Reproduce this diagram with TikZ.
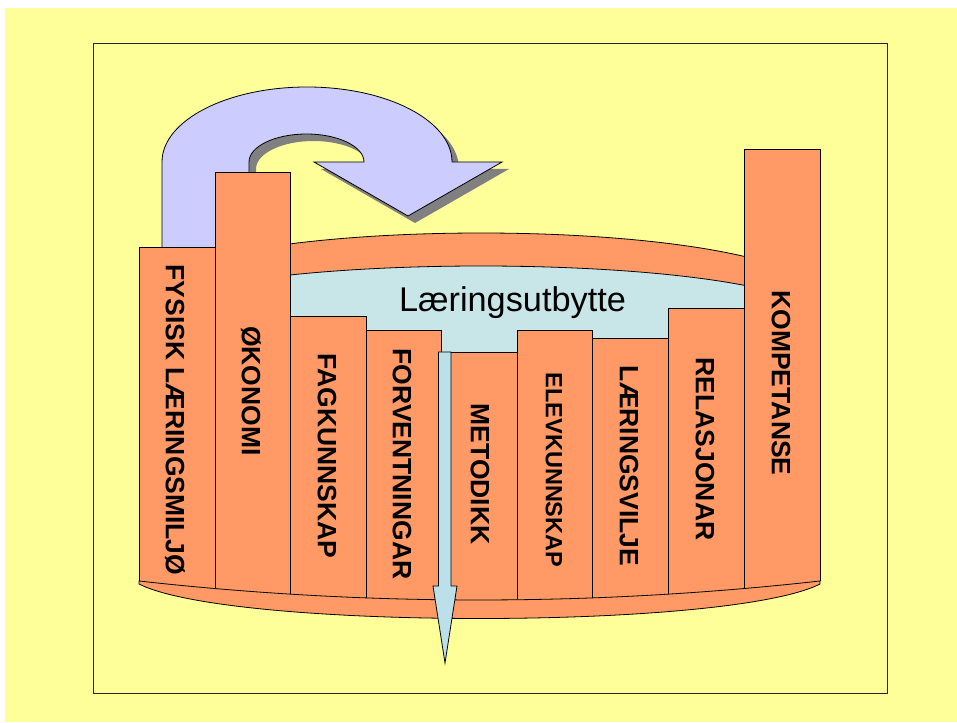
\documentclass[tikz,border=0pt]{standalone}
\usepackage{fontspec}
\setmainfont{Liberation Sans}
\definecolor{bgyellow}{HTML}{FFFF99}
\definecolor{staveorange}{HTML}{FF9966}
\definecolor{arrowlav}{HTML}{CCCCFF}
\definecolor{shadowgrey}{HTML}{808080}
\definecolor{liquid}{HTML}{C8E6E8}
\definecolor{arrowblue}{HTML}{BCE0EA}
\begin{document}
\begin{tikzpicture}[x=1pt,y=-1pt,line join=miter,
  outl/.style={draw=black,line width=0.8pt},
  stave/.style={outl,fill=staveorange},
  stavetext/.style={rotate=-90,font=\bfseries\fontsize{26.5}{26.5}\selectfont,inner sep=0pt},
  smallstavetext/.style={rotate=-90,font=\bfseries\fontsize{23.5}{23.5}\selectfont,inner sep=0pt}]
\useasboundingbox (0,0) rectangle (957,722);
\fill[bgyellow] (5,8) rectangle (957,722);
\draw[line width=0.9pt,draw=black!85] (93,43) rectangle (887,693);

% curved arrow: shadow then arrow
\fill[shadowgrey,shift={(7,7)}] (162,262) -- (162,162)
  arc[start angle=180,end angle=360,x radius=145,y radius=75]
  -- (502,162) -- (408,216) -- (314,162) -- (364,162)
  arc[start angle=360,end angle=180,x radius=57.5,y radius=28]
  -- (249,262) -- cycle;
\draw[outl,fill=arrowlav] (162,262) -- (162,162)
  arc[start angle=180,end angle=360,x radius=145,y radius=75]
  -- (502,162) -- (408,216) -- (314,162) -- (364,162)
  arc[start angle=360,end angle=180,x radius=57.5,y radius=28]
  -- (249,262) -- cycle;

% rim and liquid
\draw[stave] (481,293) ellipse[x radius=332,y radius=60];
\draw[outl,fill=liquid] (481,315.5) ellipse[x radius=332,y radius=49.5];
\node[font=\fontsize{34.3}{34.3}\selectfont,anchor=base,inner sep=0pt] (lu) at (512.5,311) {Læringsutbytte};

% staves
\begin{scope}
\clip (100,0) -- (100,581) -- (139,581) .. controls (365.7,606.3) and (592.7,606.3) .. (820,581) -- (860,581) -- (860,0) -- cycle;
\draw[stave] (139,247) rectangle (215,650);
\draw[stave] (215,172) rectangle (290,650);
\draw[stave] (290,316) rectangle (366,650);
\draw[stave] (366,330) rectangle (441,650);
\draw[stave] (441,352) rectangle (517,650);
\draw[stave] (517,330) rectangle (592,650);
\draw[stave] (592,338) rectangle (668,650);
\draw[stave] (668,308) rectangle (744,650);
\draw[stave] (744,149) rectangle (820,650);
\end{scope}

\node[stavetext] (t1) at (175,420) {FYSISK LÆRINGSMILJØ};
\node[stavetext] (t2) at (251,391) {ØKONOMI};
\node[stavetext] (t3) at (327,456) {FAGKUNNSKAP};
\node[stavetext] (t4) at (402,464) {FORVENTNINGAR};
\node[stavetext] (t5) at (480,474) {METODIKK};
\node[smallstavetext] (t6) at (554,470) {ELEVKUNNSKAP};
\node[stavetext] (t7) at (629,466) {LÆRINGSVILJE};
\node[stavetext] (t8) at (705,449) {RELASJONAR};
\node[stavetext] (t9) at (781,383) {KOMPETANSE};

% bottom band
\draw[stave] (139,581) .. controls (365.7,606.3) and (592.7,606.3) .. (820,581)
  -- (820,584) .. controls (729,630) and (230,630) .. (139,584) -- cycle;

% down arrow
\draw[outl,fill=arrowblue] (438.5,352) -- (451,352) -- (451,586) -- (457,586)
  -- (445,663) -- (433,586) -- (438.5,586) -- cycle;
\end{tikzpicture}
\end{document}
